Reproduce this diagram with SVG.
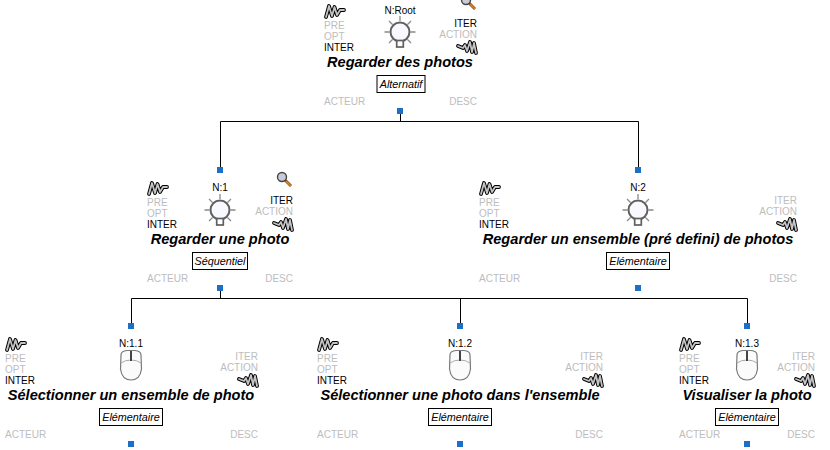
<svg xmlns="http://www.w3.org/2000/svg" xmlns:xlink="http://www.w3.org/1999/xlink" width="830" height="450" viewBox="0 0 830 450">
<style>
text{font-family:"Liberation Sans",Arial,sans-serif;font-size:10px;fill:#000}
.g{fill:#bdbdbd}
.e{text-anchor:end}
.m{text-anchor:middle}
.t{font-size:14.6px;font-weight:bold;font-style:italic;text-anchor:middle}
.k{font-size:10.8px;font-style:italic;text-anchor:middle}
.b{fill:#fff;stroke:#000;stroke-width:1}
.s{fill:#1f6fc4}
.c{fill:none;stroke:#000;stroke-width:1}
.sq{fill:none;stroke:#000;stroke-width:3.8;stroke-linejoin:round;stroke-linecap:round}
.sq2{fill:none;stroke:#c4c4c4;stroke-width:1.800;stroke-linejoin:round;stroke-linecap:round}
</style>
<defs>
<g id="sqL"><path class="sq" d="M2 14L5 3L8 13L10.500 4L13 12L16 7L20 7"/><path class="sq2" d="M2 14L5 3L8 13L10.500 4L13 12L16 7L20 7"/></g>
<g id="sqR"><path class="sq" d="M1 5L6 7L8 4L10 10L13 1L15 11L17 2L19 12"/><path class="sq2" d="M1 5L6 7L8 4L10 10L13 1L15 11L17 2L19 12"/></g>
<g id="bulb">
<path d="M-10.500 0h-5M10.500 0h5M-7.500 -7.500l-3.500 -3.500M7.500 -7.500l3.500 -3.500M0 -11v-5M-7.500 7.500l-3.500 3.500M7.500 7.500l3.500 3.500" stroke="#8a8a8a" stroke-width="1.300" fill="none"/>
<circle r="9.500" fill="#f8f8ff" stroke="#606060" stroke-width="2"/>
<rect x="-3.300" y="8.500" width="6.600" height="6.500" fill="#fff" stroke="#606060" stroke-width="1.700"/>
</g>
<g id="mouse">
<path d="M-10 -9Q-10 -13 -4 -13.500H4Q10 -13 10 -9L10.500 5Q9 16 0 16Q-9 16 -10.500 5Z" fill="#fbfbfb" stroke="#7a7a7a" stroke-width="1.200"/>
<path d="M-10 -1Q-6 -4 0 -4Q6 -4 10 -1" fill="none" stroke="#aaa" stroke-width="1"/>
<path d="M0 -13V-3" stroke="#444" stroke-width="2"/>
</g>
<g id="mag">
<path d="M6 6L13 13" stroke="#7a4510" stroke-width="2.800"/>
<path d="M8 8L13 13" stroke="#e08a20" stroke-width="1.500"/>
<circle cx="4" cy="4" r="4.500" fill="#c8cbd8" stroke="#444" stroke-width="1.400"/>
</g>
</defs>
<g id="connectors">
<path class="c" d="M400.500 113V121.500M220.500 121.500H638.500M220.500 121.500V170M638.500 121.500V170M220.500 291V298.500M131.500 298.500H747.500M131.500 298.500V326M460.500 298.500V326M747.500 298.500V326"/>
</g>
<g id="node-root">
<use href="#sqL" x="324" y="3"/>
<use href="#mag" x="462" y="-4"/>
<text class="m" x="400" y="14">N:Root</text>
<use href="#bulb" x="400" y="32"/>
<text class="g" x="324" y="29">PRE</text><text class="g" x="324" y="40">OPT</text><text x="324" y="51">INTER</text>
<text class="e" x="477" y="27">ITER</text><text class="g e" x="477" y="38">ACTION</text>
<use href="#sqR" x="457" y="41"/>
<text class="t" x="400" y="67">Regarder des photos</text>
<rect class="b" x="377" y="75.500" width="48" height="17"/><text class="k" x="401" y="88">Alternatif</text>
<text class="g" x="324" y="105">ACTEUR</text><text class="g e" x="477" y="105">DESC</text>
<rect class="s" x="397" y="108" width="6" height="6"/>
</g>
<g id="node-1" transform="translate(0,177)">
<rect class="s" x="217" y="-10" width="6" height="6"/>
<use href="#sqL" x="147" y="3"/>
<use href="#mag" x="278" y="-4"/>
<text class="m" x="220" y="14">N:1</text>
<use href="#bulb" x="220" y="33"/>
<text class="g" x="147" y="29">PRE</text><text class="g" x="147" y="40">OPT</text><text x="147" y="51">INTER</text>
<text class="e" x="293" y="27">ITER</text><text class="g e" x="293" y="38">ACTION</text>
<use href="#sqR" x="273" y="41"/>
<text class="t" x="220" y="67">Regarder une photo</text>
<rect class="b" x="192.500" y="75.500" width="55" height="17"/><text class="k" x="220" y="88">Séquentiel</text>
<text class="g" x="147" y="105">ACTEUR</text><text class="g e" x="293" y="105">DESC</text>
<rect class="s" x="217" y="108" width="6" height="6"/>
</g>
<g id="node-2" transform="translate(0,177)">
<rect class="s" x="635" y="-10" width="6" height="6"/>
<use href="#sqL" x="479" y="3"/>
<text class="m" x="638" y="14">N:2</text>
<use href="#bulb" x="638" y="33"/>
<text class="g" x="479" y="29">PRE</text><text class="g" x="479" y="40">OPT</text><text x="479" y="51">INTER</text>
<text class="g e" x="797" y="27">ITER</text><text class="g e" x="797" y="38">ACTION</text>
<use href="#sqR" x="777" y="41"/>
<text class="t" x="638" y="67">Regarder un ensemble (pré defini) de photos</text>
<rect class="b" x="606.500" y="75.500" width="63" height="17"/><text class="k" x="638" y="88">Elémentaire</text>
<text class="g" x="479" y="105">ACTEUR</text><text class="g e" x="797" y="105">DESC</text>
<rect class="s" x="635" y="108" width="6" height="6"/>
</g>
<g id="node-1-1" transform="translate(0,333)">
<rect class="s" x="128" y="-10" width="6" height="6"/>
<use href="#sqL" x="5" y="3"/>
<text class="m" x="131" y="14">N:1.1</text>
<use href="#mouse" x="131" y="31"/>
<text class="g" x="5" y="29">PRE</text><text class="g" x="5" y="40">OPT</text><text x="5" y="51">INTER</text>
<text class="g e" x="258" y="27">ITER</text><text class="g e" x="258" y="38">ACTION</text>
<use href="#sqR" x="238" y="41"/>
<text class="t" x="131" y="67">Sélectionner un ensemble de photo</text>
<rect class="b" x="99.500" y="75.500" width="63" height="17"/><text class="k" x="131" y="88">Elémentaire</text>
<text class="g" x="5" y="105">ACTEUR</text><text class="g e" x="258" y="105">DESC</text>
<rect class="s" x="128" y="108" width="6" height="6"/>
</g>
<g id="node-1-2" transform="translate(0,333)">
<rect class="s" x="457" y="-10" width="6" height="6"/>
<use href="#sqL" x="317" y="3"/>
<text class="m" x="460" y="14">N:1.2</text>
<use href="#mouse" x="460" y="31"/>
<text class="g" x="317" y="29">PRE</text><text class="g" x="317" y="40">OPT</text><text x="317" y="51">INTER</text>
<text class="g e" x="603" y="27">ITER</text><text class="g e" x="603" y="38">ACTION</text>
<use href="#sqR" x="583" y="41"/>
<text class="t" x="460" y="67">Sélectionner une photo dans l'ensemble</text>
<rect class="b" x="428.500" y="75.500" width="63" height="17"/><text class="k" x="460" y="88">Elémentaire</text>
<text class="g" x="317" y="105">ACTEUR</text><text class="g e" x="603" y="105">DESC</text>
<rect class="s" x="457" y="108" width="6" height="6"/>
</g>
<g id="node-1-3" transform="translate(0,333)">
<rect class="s" x="744" y="-10" width="6" height="6"/>
<use href="#sqL" x="679" y="3"/>
<text class="m" x="747" y="14">N:1.3</text>
<use href="#mouse" x="747" y="31"/>
<text class="g" x="679" y="29">PRE</text><text class="g" x="679" y="40">OPT</text><text x="679" y="51">INTER</text>
<text class="g e" x="815" y="27">ITER</text><text class="g e" x="815" y="38">ACTION</text>
<use href="#sqR" x="795" y="41"/>
<text class="t" x="747" y="67">Visualiser la photo</text>
<rect class="b" x="715.500" y="75.500" width="63" height="17"/><text class="k" x="747" y="88">Elémentaire</text>
<text class="g" x="679" y="105">ACTEUR</text><text class="g e" x="815" y="105">DESC</text>
<rect class="s" x="744" y="108" width="6" height="6"/>
</g>
</svg>
